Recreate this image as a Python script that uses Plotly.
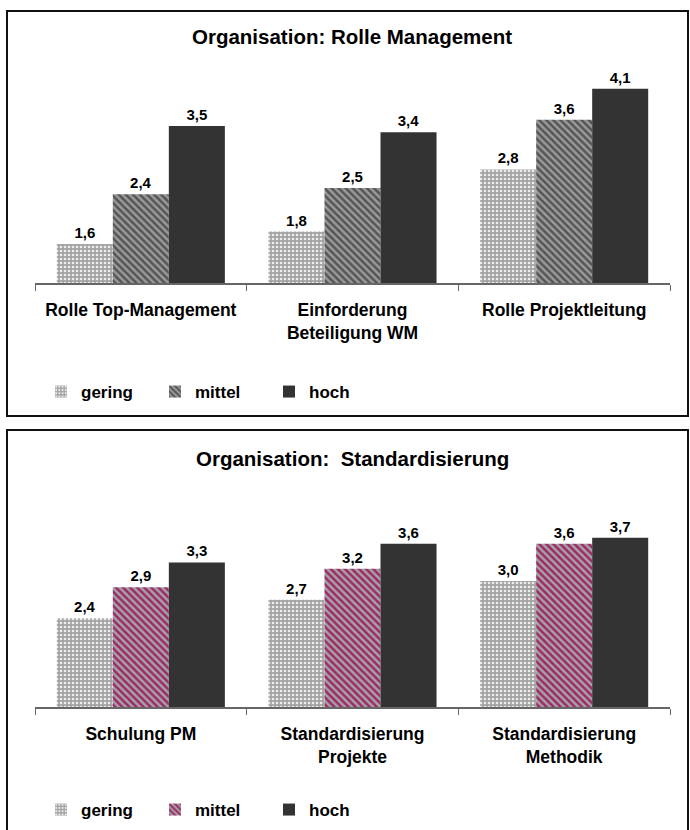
import plotly.graph_objects as go

# ---- data -------------------------------------------------------------
series_names = ["gering", "mittel", "hoch"]

mgmt_categories = ["Rolle Top-Management", "Einforderung<br>Beteiligung WM", "Rolle Projektleitung"]
mgmt_gering = [1.6, 1.8, 2.8]
mgmt_mittel = [2.4, 2.5, 3.6]
mgmt_hoch = [3.5, 3.4, 4.1]

std_categories = ["Schulung PM", "Standardisierung<br>Projekte", "Standardisierung<br>Methodik"]
std_gering = [2.4, 2.7, 3.0]
std_mittel = [2.9, 3.2, 3.6]
std_hoch = [3.3, 3.6, 3.7]

titles = ["Organisation: Rolle Management", "Organisation:\u00a0\u00a0Standardisierung"]

# ---- styling ----------------------------------------------------------
W, H = 690, 830
FONT = "Liberation Sans, Arial, Helvetica, sans-serif"


def px_x(p):
    return p / W


def px_y(p):
    return 1 - p / H


gering_style = dict(color="#a3a3a3",
                    pattern=dict(shape=".", fgcolor="#ececec", bgcolor="#a3a3a3",
                                 size=4, solidity=0.35, fillmode="replace"))
mittel_grey = dict(color="#8c8c8c",
                   pattern=dict(shape="\\", fgcolor="#555555", bgcolor="#9a9a9a",
                                size=5, solidity=0.5, fillmode="replace"))
mittel_pink = dict(color="#a0306c",
                   pattern=dict(shape="\\", fgcolor="#9e2868", bgcolor="#a4a4a4",
                                size=5, solidity=0.5, fillmode="replace"))
hoch_style = dict(color="#333333")

panels = [
    dict(cats=mgmt_categories, vals=[mgmt_gering, mgmt_mittel, mgmt_hoch],
         styles=[gering_style, mittel_grey, hoch_style], axis_px=283, legend_px=392,
         title_px=36, xa="x", ya="y", legend="legend"),
    dict(cats=std_categories, vals=[std_gering, std_mittel, std_hoch],
         styles=[gering_style, mittel_pink, hoch_style], axis_px=707, legend_px=810,
         title_px=458, xa="x2", ya="y2", legend="legend2"),
]

fig = go.Figure()

for p in panels:
    for name, vals, style in zip(series_names, p["vals"], p["styles"]):
        fig.add_trace(go.Bar(
            x=p["cats"], y=vals, name=name,
            marker=dict(line=dict(width=0), **style),
            texttemplate="<b>%{y:.1f}</b>", textposition="outside",
            textfont=dict(family=FONT, size=15, color="#000000"),
            cliponaxis=False,
            xaxis=p["xa"], yaxis=p["ya"], legend=p["legend"],
        ))

PLOT_H = 250
Y_RANGE = [0.97, 5.0]
layout_axes = {}
for i, p in enumerate(panels):
    suffix = "" if i == 0 else str(i + 1)
    layout_axes["xaxis" + suffix] = dict(
        domain=[px_x(35), px_x(670)], anchor="y" + suffix,
        showline=True, linecolor="#666666", linewidth=1.5,
        ticks="outside", tickson="boundaries", ticklen=6, tickcolor="#666666",
        tickfont=dict(family=FONT, size=17.5, color="#000000", weight="bold"),
        ticklabelstandoff=10, showgrid=False, zeroline=False, fixedrange=True,
    )
    layout_axes["yaxis" + suffix] = dict(
        domain=[px_y(p["axis_px"]), px_y(p["axis_px"] - PLOT_H)], anchor="x" + suffix,
        range=Y_RANGE, visible=False, showgrid=False, zeroline=False,
    )

annotations = []
shapes = []
for p, t in zip(panels, titles):
    annotations.append(dict(
        text=t, xref="paper", yref="paper", x=px_x(352), y=px_y(p["title_px"]),
        xanchor="center", yanchor="middle", showarrow=False,
        font=dict(family=FONT, size=20.5, color="#000000", weight="bold"),
    ))

# panel frames
shapes.append(dict(type="rect", xref="paper", yref="paper",
                   x0=px_x(7), x1=px_x(688), y0=px_y(416), y1=px_y(11),
                   line=dict(color="#111111", width=2), fillcolor="rgba(0,0,0,0)"))
shapes.append(dict(type="rect", xref="paper", yref="paper",
                   x0=px_x(7), x1=px_x(688), y0=px_y(845), y1=px_y(430),
                   line=dict(color="#111111", width=2), fillcolor="rgba(0,0,0,0)"))

legend_common = dict(
    orientation="h", xanchor="left", yanchor="middle",
    font=dict(family=FONT, size=17, color="#000000", weight="bold"),
    bgcolor="rgba(0,0,0,0)", borderwidth=0,
    entrywidth=69, entrywidthmode="pixels", traceorder="normal",
    itemclick=False, itemdoubleclick=False,
)

fig.update_layout(
    width=W, height=H, margin=dict(l=0, r=0, t=0, b=0),
    paper_bgcolor="#ffffff", plot_bgcolor="#ffffff",
    barmode="group", bargap=0.206, bargroupgap=0,
    separators=",.",
    showlegend=True,
    legend=dict(x=px_x(41), y=px_y(panels[0]["legend_px"]), **legend_common),
    legend2=dict(x=px_x(41), y=px_y(panels[1]["legend_px"]), **legend_common),
    annotations=annotations, shapes=shapes,
    **layout_axes,
)

fig.write_html("out.html")
